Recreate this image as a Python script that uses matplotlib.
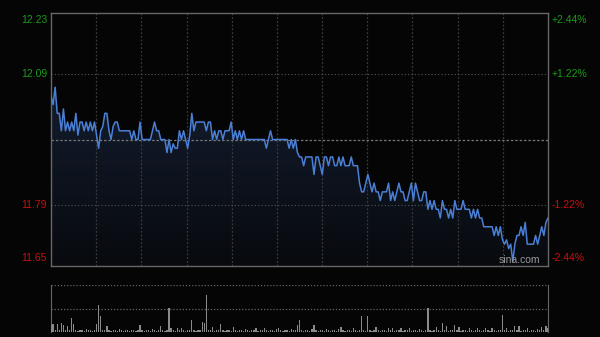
import numpy as np
import matplotlib.pyplot as plt
from matplotlib.patches import Polygon

# intraday prices, one per minute (241 points)
prices = [
    12.04, 12.02, 12.06, 12.00, 12.00, 11.96, 12.01, 11.96, 11.98, 11.96,
    11.98, 11.96, 12.00, 11.95, 11.98, 11.98, 11.96, 11.98, 11.96, 11.98,
    11.96, 11.98, 11.95, 11.92, 11.96, 11.97, 12.00, 12.00, 11.96, 11.94,
    11.97, 11.98, 11.98, 11.96, 11.96, 11.96, 11.96, 11.96, 11.96, 11.94,
    11.96, 11.94, 11.94, 11.98, 11.94, 11.94, 11.94, 11.94, 11.94, 11.96,
    11.98, 11.96, 11.96, 11.94, 11.94, 11.94, 11.91, 11.94, 11.91, 11.93,
    11.92, 11.92, 11.96, 11.94, 11.96, 11.94, 11.92, 11.95, 12.00, 11.96,
    11.98, 11.98, 11.98, 11.98, 11.98, 11.96, 11.98, 11.98, 11.94, 11.96,
    11.94, 11.96, 11.96, 11.94, 11.96, 11.96, 11.96, 11.98, 11.94, 11.96,
    11.94, 11.96, 11.94, 11.96, 11.94, 11.94, 11.94, 11.94, 11.94, 11.94,
    11.94, 11.94, 11.94, 11.94, 11.92, 11.94, 11.96, 11.94, 11.94, 11.94,
    11.94, 11.94, 11.94, 11.94, 11.94, 11.92, 11.94, 11.92, 11.94, 11.91,
    11.90, 11.90, 11.88, 11.90, 11.90, 11.90, 11.90, 11.86, 11.90, 11.90,
    11.88, 11.86, 11.90, 11.90, 11.88, 11.90, 11.90, 11.88, 11.88, 11.90,
    11.88, 11.90, 11.88, 11.88, 11.88, 11.90, 11.88, 11.88, 11.88, 11.84,
    11.82, 11.82, 11.84, 11.86, 11.84, 11.82, 11.84, 11.82, 11.82, 11.80,
    11.82, 11.82, 11.82, 11.84, 11.80, 11.82, 11.80, 11.82, 11.84, 11.82,
    11.82, 11.80, 11.80, 11.82, 11.84, 11.80, 11.84, 11.82, 11.80, 11.80,
    11.82, 11.82, 11.78, 11.80, 11.78, 11.80, 11.78, 11.78, 11.76, 11.80,
    11.78, 11.78, 11.76, 11.78, 11.76, 11.80, 11.78, 11.78, 11.78, 11.80,
    11.78, 11.78, 11.78, 11.76, 11.78, 11.76, 11.78, 11.76, 11.76, 11.74,
    11.74, 11.74, 11.74, 11.74, 11.72, 11.74, 11.72, 11.74, 11.71, 11.70,
    11.71, 11.69, 11.70, 11.66, 11.70, 11.72, 11.72, 11.74, 11.72, 11.75,
    11.70, 11.70, 11.70, 11.70, 11.72, 11.70, 11.72, 11.74, 11.72, 11.75,
    11.76,
]

# volume per minute (relative units)
volumes = [
    15, 17, 5, 17, 4, 19, 15, 5, 13, 4,
    30, 17, 4, 3, 5, 4, 3, 6, 4, 5,
    3, 4, 17, 57, 33, 4, 5, 13, 4, 3,
    5, 4, 3, 6, 4, 3, 5, 4, 3, 4,
    5, 3, 4, 15, 4, 3, 5, 4, 3, 6,
    4, 3, 5, 13, 4, 3, 5, 51, 9, 4,
    3, 9, 4, 9, 5, 3, 4, 5, 26, 4,
    3, 5, 4, 21, 20, 79, 4, 5, 11, 3,
    4, 5, 17, 4, 3, 5, 4, 3, 11, 4,
    3, 5, 4, 3, 6, 4, 3, 5, 4, 9,
    3, 4, 5, 9, 4, 3, 5, 4, 3, 6,
    9, 4, 3, 5, 4, 3, 6, 4, 5, 15,
    26, 4, 3, 5, 4, 3, 6, 15, 4, 3,
    5, 4, 3, 6, 4, 3, 5, 4, 3, 6,
    11, 4, 3, 5, 4, 3, 9, 4, 3, 5,
    33, 4, 3, 33, 4, 3, 5, 11, 4, 3,
    5, 4, 3, 9, 4, 9, 3, 5, 4, 9,
    3, 5, 4, 9, 3, 5, 4, 3, 6, 4,
    3, 5, 51, 4, 3, 5, 11, 4, 3, 20,
    4, 12, 3, 5, 4, 15, 4, 11, 3, 5,
    4, 3, 9, 4, 3, 5, 9, 4, 3, 5,
    9, 4, 3, 9, 4, 3, 5, 4, 36, 4,
    9, 3, 5, 4, 13, 4, 13, 3, 5, 4,
    9, 3, 5, 4, 3, 6, 4, 11, 5, 13,
    8,
]

prev_close = 11.94
y_labels = [12.23, 12.09, 11.79, 11.65]
pct_labels = ['+2.44%', '+1.22%', '-1.22%', '-2.44%']

bg = '#050505'
line_blue = '#4a7fd6'
green = '#1a9a1a'
red = '#c81010'

fig = plt.figure(figsize=(6, 3.37), dpi=100, facecolor=bg)
ax = fig.add_axes([51 / 600, 1 - 266 / 337, 497 / 600, 253 / 337], facecolor=bg)
axv = fig.add_axes([51 / 600, 1 - 332 / 337, 497 / 600, 47 / 337], facecolor=bg)

x = np.arange(len(prices))
ymin, ymax = y_labels[-1], y_labels[0]

# gradient fill under the price line
poly = Polygon(np.column_stack([np.r_[x, x[-1], x[0]], np.r_[prices, ymin, ymin]]),
               closed=True, facecolor='none', edgecolor='none')
ax.add_patch(poly)
grad = np.linspace(0, 1, 256).reshape(-1, 1)
from matplotlib.colors import LinearSegmentedColormap
cmap = LinearSegmentedColormap.from_list('f', ['#080a0e', '#131c2e'])
im = ax.imshow(grad, extent=[x[0], x[-1], ymin, max(prices)], origin='lower',
               aspect='auto', cmap=cmap, zorder=1)
im.set_clip_path(poly)

ax.plot(x, prices, color=line_blue, lw=1.1, zorder=3)

ax.set_xlim(0, len(prices) - 1)
ax.set_ylim(ymin, ymax)

# grid
for k in range(1, 11):
    xv = (len(prices) - 1) * k / 11
    ax.axvline(xv, color='#3a3a3a', lw=0.9, ls=(0, (1.5, 1.5)), zorder=2)
for yv in [12.09, 11.79]:
    ax.axhline(yv, color='#555555', lw=0.8, ls=(0, (1, 2)), zorder=2)
ax.axhline(prev_close, color='#777777', lw=0.9, ls=(0, (2, 1.5)), zorder=2)

ax.set_xticks([])
ax.set_yticks([])
for s in ax.spines.values():
    s.set_color('#666666')
    s.set_linewidth(1)

# price labels
font = 'Liberation Sans'
vas = ['top', 'center', 'center', 'bottom']
for val, pct, va in zip(y_labels, pct_labels, vas):
    c = green if val > prev_close else red
    yy = val
    if va == 'top':
        yy = val - 0.005
    elif va == 'bottom':
        yy = val + 0.006
    ax.text(-4 / 2.07, yy, f'{val:.2f}', color=c, ha='right', va=va,
            fontsize=7.5, family=font)
    ax.text(len(prices) - 1 + 4 / 2.07, yy, pct, color=c, ha='left', va=va,
            fontsize=7.5, family=font)

ax.text(0.985, 0.005, 'sina.com', transform=ax.transAxes, color='#9a9a9a',
        ha='right', va='bottom', fontsize=7.5, family=font, zorder=4)

# volume panel
axv.bar(x, volumes, width=0.6, color='#8a8a8a', zorder=3)
axv.set_xlim(0, len(prices) - 1)
axv.set_ylim(0, 100)
axv.axhline(100, color='#666666', lw=0.9, ls=(0, (1, 1.5)))
axv.axhline(50, color='#666666', lw=0.9, ls=(0, (1, 1.5)))
axv.set_xticks([])
axv.set_yticks([])
for side in ['top', 'bottom']:
    axv.spines[side].set_visible(False)
for side in ['left', 'right']:
    axv.spines[side].set_color('#666666')

fig.savefig('out.png', dpi=100, facecolor=bg)
